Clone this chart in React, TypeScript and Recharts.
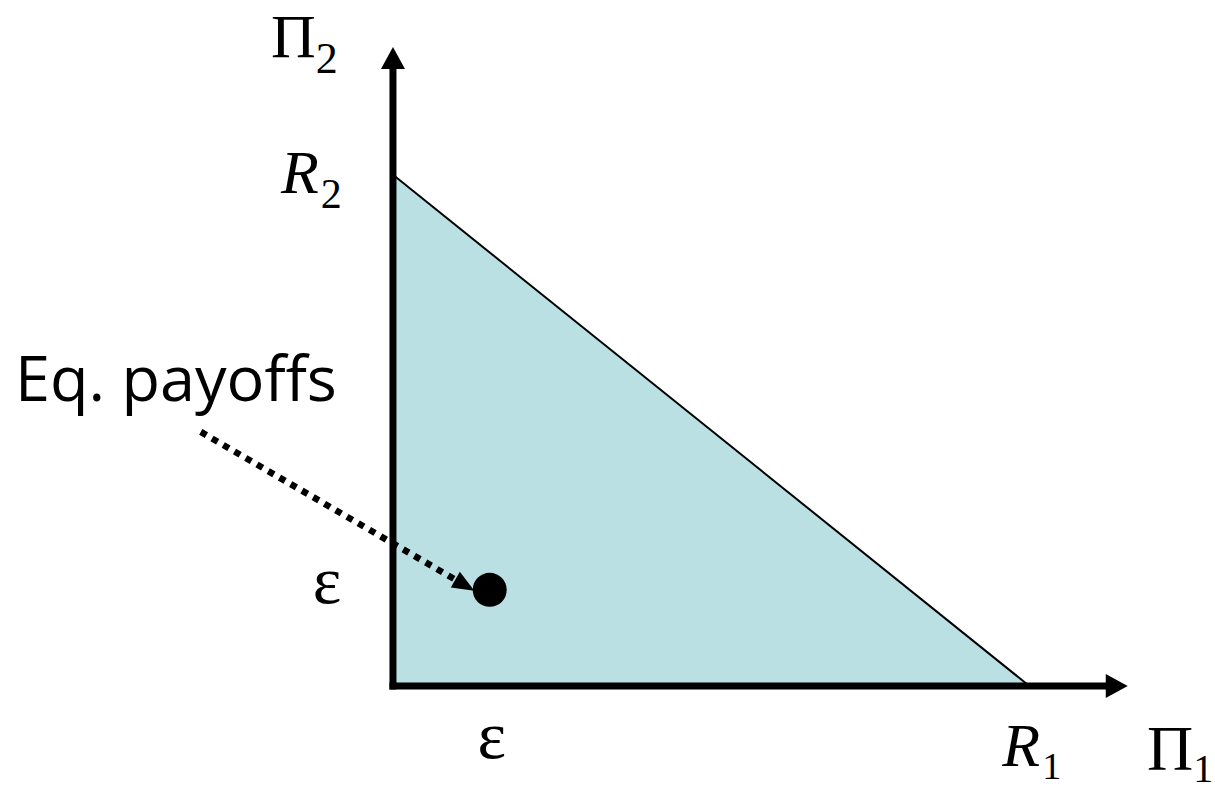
import React from 'react';
import { ComposedChart, XAxis, YAxis, Area, Line, Scatter, ReferenceDot } from 'recharts';

// payoff space, units (R1 = R2 = 10)
const R1 = 10;
const R2 = 10;
const EPS_X = 1.52;
const EPS_Y = 1.88;

const frontier = [
  { x: 0, y: R2 },
  { x: R1, y: 0 },
];
const xAxisLine = [
  { x: 0, y: 0 },
  { x: 11.2, y: 0 },
];
const yAxisLine = [
  { x: 0, y: 0 },
  { x: 0, y: 12.07 },
];
const eqPoint = [{ x: EPS_X, y: EPS_Y }];
const pointer = [
  { x: -3.02, y: 4.97 },
  { x: 0.98, y: 2.08 },
];

const xTicks = [
  { value: EPS_X, main: 'ε', sub: '' },
  { value: R1, main: 'R', sub: '1' },
];
const yTicks = [
  { value: EPS_Y, main: 'ε', sub: '' },
  { value: R2, main: 'R', sub: '2' },
];
const axisTitles = [
  { x: 11.55, y: 0, main: 'Π', sub: '1' },
  { x: 0, y: 12.5, main: 'Π', sub: '2' },
];
const note = { x: -3.2, y: 5.6, text: 'Eq. payoffs' };

const W = 1215;
const H = 790;
const serif = '"Liberation Serif", "DejaVu Serif", serif';

// arrowhead drawn forward from the last point of a line, along its direction
const arrowDot = (len: number, half: number) => (props: any) => {
  const { cx, cy, index, points } = props;
  if (!points || index !== points.length - 1) return <g key={`d${index}`} />;
  const p0 = points[0];
  const dx = cx - p0.x;
  const dy = cy - p0.y;
  const d = Math.hypot(dx, dy) || 1;
  const ux = dx / d;
  const uy = dy / d;
  const tx = cx + ux * len;
  const ty = cy + uy * len;
  const pts = `${tx},${ty} ${cx - uy * half},${cy + ux * half} ${cx + uy * half},${cy - ux * half}`;
  return <polygon key={`d${index}`} points={pts} fill="#000" />;
};

const MathLabel = ({ x, y, main, sub, italic, size, subSize, subDy, anchor }: any) => (
  <text x={x} y={y} fontFamily={serif} fontSize={size} fill="#000" textAnchor={anchor || 'start'}>
    <tspan fontStyle={italic ? 'italic' : 'normal'}>{main}</tspan>
    {sub ? (
      <tspan fontSize={subSize} dy={subDy} dx={italic ? 2 : 0}>
        {sub}
      </tspan>
    ) : null}
  </text>
);

export default function App() {
  return (
    <div style={{ position: 'absolute', left: 0, top: 0, width: W, height: H, background: '#fff' }}>
      <ComposedChart width={W} height={H} margin={{ top: 47, right: 87, bottom: 0, left: 0 }}>
        <XAxis type="number" dataKey="x" domain={[-6.175, 11.55]} hide allowDataOverflow />
        <YAxis type="number" dataKey="y" domain={[-2.035, 12.5]} hide allowDataOverflow />

        <Area
          data={frontier}
          dataKey="y"
          type="linear"
          baseValue={0}
          fill="#BAE0E3"
          fillOpacity={1}
          stroke="#000"
          strokeWidth={2}
          isAnimationActive={false}
        />

        <Line
          data={yAxisLine}
          dataKey="y"
          type="linear"
          stroke="#000"
          strokeWidth={7}
          strokeLinecap="square"
          dot={arrowDot(22, 12)}
          activeDot={false}
          isAnimationActive={false}
        />
        <Line
          data={xAxisLine}
          dataKey="y"
          type="linear"
          stroke="#000"
          strokeWidth={7}
          strokeLinecap="square"
          dot={arrowDot(22, 12)}
          activeDot={false}
          isAnimationActive={false}
        />

        <Line
          data={pointer}
          dataKey="y"
          type="linear"
          stroke="#000"
          strokeWidth={6.5}
          strokeDasharray="6.5 6.5"
          dot={arrowDot(22, 9)}
          activeDot={false}
          isAnimationActive={false}
        />

        <Scatter
          data={eqPoint}
          dataKey="y"
          isAnimationActive={false}
          shape={(p: any) => <circle cx={p.cx} cy={p.cy} r={17} fill="#000" />}
        />

        {xTicks.map((t) => (
          <ReferenceDot
            key={`xt${t.main}${t.sub}`}
            x={t.value}
            y={0}
            r={0}
            shape={(p: any) =>
              t.sub ? (
                <MathLabel x={p.cx - 27} y={p.cy + 80} main={t.main} sub={t.sub} italic size={62} subSize={38} subDy={13} />
              ) : (
                <MathLabel x={p.cx + 2} y={p.cy + 72} main={t.main} size={68} anchor="middle" />
              )
            }
          />
        ))}

        {yTicks.map((t) => (
          <ReferenceDot
            key={`yt${t.main}${t.sub}`}
            x={0}
            y={t.value}
            r={0}
            shape={(p: any) =>
              t.sub ? (
                <MathLabel x={p.cx - 112} y={p.cy + 18} main={t.main} sub={t.sub} italic size={62} subSize={42} subDy={15} />
              ) : (
                <MathLabel x={p.cx - 66} y={p.cy + 13} main={t.main} size={68} anchor="middle" />
              )
            }
          />
        ))}

        {axisTitles.map((t) => (
          <ReferenceDot
            key={`at${t.sub}`}
            x={t.x}
            y={t.y}
            r={0}
            shape={(p: any) =>
              t.sub === '1' ? (
                <MathLabel x={p.cx + 19} y={p.cy + 84} main={t.main} sub={t.sub} size={64} subSize={40} subDy={12} />
              ) : (
                <MathLabel x={p.cx - 122} y={p.cy + 10} main={t.main} sub={t.sub} size={62} subSize={44} subDy={16} />
              )
            }
          />
        ))}

        <ReferenceDot
          x={note.x}
          y={note.y}
          r={0}
          shape={(p: any) => (
            <text x={15} y={p.cy + 1} fontFamily='"Open Sans", "DejaVu Sans", sans-serif' fontSize={63} fill="#000">
              {note.text}
            </text>
          )}
        />
      </ComposedChart>
    </div>
  );
}
